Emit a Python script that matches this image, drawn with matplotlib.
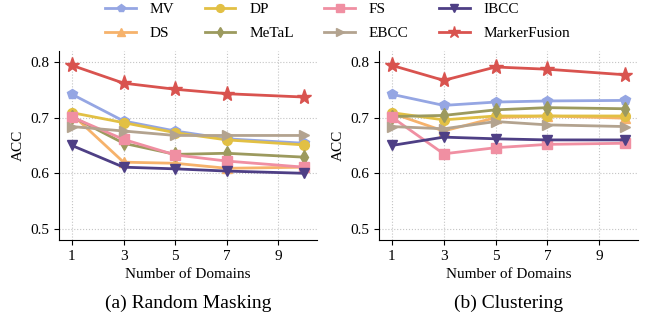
import matplotlib
matplotlib.use("Agg")
import matplotlib.pyplot as plt

plt.rcParams['font.family'] = ['Liberation Serif', 'DejaVu Serif']
plt.rcParams['mathtext.fontset'] = 'stix'

x = [1, 3, 5, 7, 10]
methods = ["MV", "DS", "DP", "MeTaL", "FS", "EBCC", "IBCC", "MarkerFusion"]

random_masking = {
    "MV":           [0.742, 0.694, 0.676, 0.662, 0.654],
    "DS":           [0.706, 0.620, 0.618, 0.609, 0.611],
    "DP":           [0.709, 0.691, 0.673, 0.660, 0.651],
    "MeTaL":        [0.702, 0.654, 0.634, 0.636, 0.629],
    "FS":           [0.701, 0.661, 0.633, 0.622, 0.611],
    "EBCC":         [0.684, 0.676, 0.668, 0.668, 0.668],
    "IBCC":         [0.650, 0.611, 0.608, 0.604, 0.600],
    "MarkerFusion": [0.794, 0.762, 0.751, 0.743, 0.737],
}
clustering = {
    "MV":           [0.742, 0.722, 0.728, 0.730, 0.731],
    "DS":           [0.708, 0.676, 0.700, 0.703, 0.699],
    "DP":           [0.709, 0.696, 0.703, 0.703, 0.703],
    "MeTaL":        [0.702, 0.704, 0.714, 0.718, 0.716],
    "FS":           [0.701, 0.635, 0.646, 0.652, 0.654],
    "EBCC":         [0.684, 0.680, 0.693, 0.687, 0.684],
    "IBCC":         [0.650, 0.665, 0.662, 0.660, 0.660],
    "MarkerFusion": [0.794, 0.767, 0.791, 0.787, 0.777],
}

colors = {
    "MV": "#95a6e3", "DS": "#f6b26b", "DP": "#e2c044", "MeTaL": "#9c9a5e",
    "FS": "#f08fa2", "EBCC": "#b3a38f", "IBCC": "#4e3f85", "MarkerFusion": "#d9534f",
}
markers = {
    "MV": "p", "DS": "^", "DP": "o", "MeTaL": "d",
    "FS": "s", "EBCC": ">", "IBCC": "v", "MarkerFusion": "*",
}
msizes = {m: 7 for m in methods}
msizes["MarkerFusion"] = 11

xticks = [1, 3, 5, 7, 9]
yticks = [0.5, 0.6, 0.7, 0.8]

fig = plt.figure(figsize=(6.52, 3.24), dpi=100)
ax1 = fig.add_axes([0.0905, 0.259, 0.396, 0.584])
ax2 = fig.add_axes([0.581, 0.259, 0.398, 0.584])

handles = []
for ax, data, cap in [(ax1, random_masking, "(a) Random Masking"),
                      (ax2, clustering, "(b) Clustering")]:
    for m in methods:
        h, = ax.plot(x, data[m], color=colors[m], marker=markers[m],
                     markersize=msizes[m], linewidth=2, label=m)
        if ax is ax1:
            handles.append(h)
    ax.set_xlim(0.5, 10.5)
    ax.set_ylim(0.48, 0.82)
    ax.set_xticks(xticks)
    ax.set_yticks(yticks)
    ax.set_yticklabels([f"{v:.1f}" for v in yticks])
    ax.tick_params(labelsize=11)
    ax.grid(True, linestyle=':', color='#c4c4c4', linewidth=0.8)
    ax.set_axisbelow(True)
    for s in ["top", "right"]:
        ax.spines[s].set_visible(False)
    ax.set_xlabel("Number of Domains", fontsize=11)
    ax.set_ylabel("ACC", fontsize=11)
    ax.text(0.5, -0.333, cap, transform=ax.transAxes, ha='center', va='center',
            fontsize=14)

order = ["MV", "DS", "DP", "MeTaL", "FS", "EBCC", "IBCC", "MarkerFusion"]
hmap = {h.get_label(): h for h in handles}
fig.legend([hmap[o] for o in order], order, ncol=4, loc='upper center',
           bbox_to_anchor=(0.518, 1.035), frameon=False, fontsize=11,
           columnspacing=2.0, handlelength=2.0, handletextpad=0.9,
           markerscale=0.8, labelspacing=0.7)

fig.savefig("out.png", dpi=100)
